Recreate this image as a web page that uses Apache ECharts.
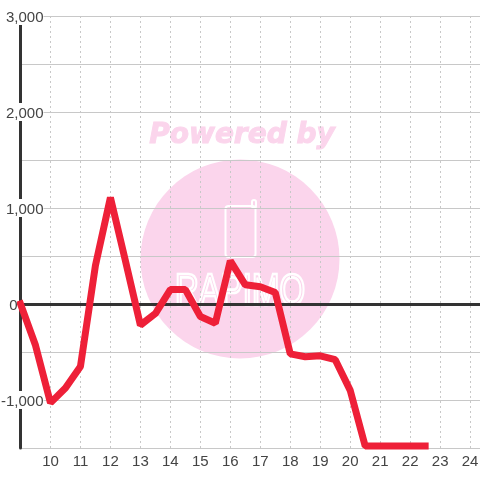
<!DOCTYPE html>
<html>
<head>
<meta charset="utf-8">
<style>
  html, body { margin: 0; padding: 0; background: #fff; }
  #chart { width: 480px; height: 480px; }
</style>
<script src="https://cdn.jsdelivr.net/npm/echarts@6/dist/echarts.min.js"></script>
</head>
<body>
<div id="chart"></div>
<script>
// half hour steps
const hours = [9, 9.5, 10, 10.5, 11, 11.5, 12, 12.5, 13, 13.5, 14, 14.5, 15, 15.5, 16, 16.5, 17, 17.5, 18, 18.5, 19, 19.5, 20, 20.5, 21, 21.5, 22, 22.5]
const values = [0, -430, -1030, -875, -650, 400, 1110, 450, -220, -100, 150, 150, -130, -200, 450, 200, 180, 120, -520, -550, -540, -580, -900, -1480, -1480, -1480, -1480, -1480]
const yTicks = [3000, 2000, 1000, 0, -1000]

const labelFont = 'Liberation Sans, Arial, sans-serif'
const pink = '#fbd5ec'

let myChart = echarts.init(document.getElementById('chart'))

let options = {
  animation: false,
  backgroundColor: '#fff',
  grid: { left: 20.5, right: 0, top: 16, bottom: 32, outerBoundsMode: 'none' },
  // watermark behind the chart
  graphic: [
    { type: 'circle', z: -10, silent: true, shape: { cx: 240, cy: 259, r: 99.5 }, style: { fill: pink } },
    { type: 'text', z: -10, silent: true, x: 242, y: 136, style: { text: 'Powered by', fill: pink, stroke: pink, lineWidth: 1, font: 'italic bold 28px "DejaVu Sans"', align: 'center', verticalAlign: 'middle' } },
    { type: 'rect', z: -9, silent: true, shape: { x: 225.5, y: 206, width: 30, height: 51, r: 3 }, style: { fill: 'none', stroke: '#fff', lineWidth: 2 } },
    { type: 'rect', z: -9, silent: true, shape: { x: 252, y: 200, width: 4, height: 8, r: 2 }, style: { fill: 'none', stroke: '#fff', lineWidth: 2 } },
    { type: 'text', z: -9, silent: true, x: 240, y: 293, scaleX: 1.1, scaleY: 1.5, style: { text: 'RAPIMO', fill: 'none', stroke: '#fff', lineWidth: 1.8, font: '30px "Liberation Sans"', align: 'center', verticalAlign: 'middle' } }
  ],
  xAxis: {
    type: 'value',
    min: 9,
    max: 24.33,
    interval: 1,
    axisLine: { show: false },
    axisTick: { show: false },
    axisLabel: {
      color: '#444',
      fontSize: 15,
      fontFamily: labelFont,
      margin: 6,
      showMaxLabel: false,
      formatter: v => (v > 9 && Number.isInteger(v)) ? String(v) : ''
    },
    splitLine: { show: true, lineStyle: { color: '#c8c8c8', type: [2, 3], width: 1 } }
  },
  yAxis: {
    type: 'value',
    min: -1500,
    max: 3000,
    interval: 500,
    axisLine: { show: true, onZero: false, lineStyle: { color: '#333', width: 3 } },
    axisTick: { show: false },
    axisLabel: {
      margin: -23,
      color: '#444',
      fontSize: 15,
      fontFamily: labelFont,
      align: 'right',
      formatter: v => {
        if (!yTicks.includes(v)) return ''
        if (v === 0) return '{zero|0}'
        return '{tick|' + v.toLocaleString('en-US') + '}'
      },
      rich: {
        tick: { color: '#444', fontSize: 15, fontFamily: labelFont, backgroundColor: '#fff', padding: [3, 0, 0, 0] },
        zero: { color: '#444', fontSize: 15, fontFamily: labelFont, padding: [3, 26, 0, 0] }
      }
    },
    splitLine: { show: true, lineStyle: { color: '#c8c8c8', width: 1 } }
  },
  series: [
    {
      type: 'line',
      z: 3,
      data: [],
      silent: true,
      markLine: {
        silent: true,
        symbol: 'none',
        label: { show: false },
        lineStyle: { color: '#333', width: 3, type: 'solid' },
        data: [{ yAxis: 0 }]
      }
    },
    {
      type: 'line',
      z: 5,
      data: hours.map((h, i) => [h, values[i]]),
      showSymbol: false,
      lineStyle: { color: '#ee2038', width: 7, join: 'bevel', cap: 'square' }
    }
  ]
}

myChart.setOption(options)
</script>
</body>
</html>
